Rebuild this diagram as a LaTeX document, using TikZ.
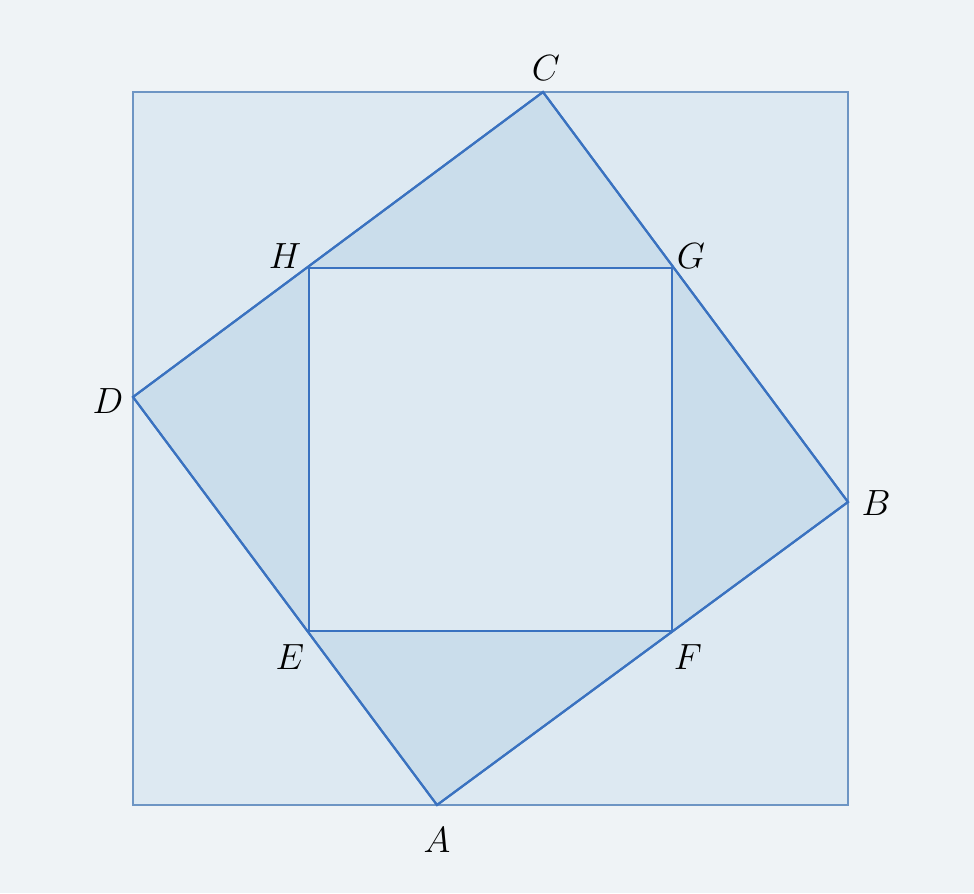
\documentclass[tikz,border=0pt]{standalone}
\usepackage{tikz}
\definecolor{bg}{HTML}{EFF3F6}
\definecolor{sqfill}{HTML}{DDE9F2}
\definecolor{trifill}{HTML}{CADDEB}
\definecolor{ln}{HTML}{3A72C0}
\definecolor{outerln}{HTML}{6D95C4}
\tikzset{lbl/.style={font=\fontsize{22}{26}\selectfont\itshape, inner sep=0pt}}
\begin{document}
\begin{tikzpicture}[x=0.02cm,y=-0.02cm]
\fill[bg] (0,0) rectangle (974,893);
\useasboundingbox (0,0) rectangle (974,893);
\coordinate (P1) at (133,92);
\coordinate (P2) at (848,92);
\coordinate (P3) at (848,805);
\coordinate (P4) at (133,805);
\coordinate (A) at (437,805);
\coordinate (B) at (848,502);
\coordinate (C) at (543,92);
\coordinate (D) at (133,397);
\coordinate (E) at (309,631);
\coordinate (F) at (672,631);
\coordinate (G) at (672,268);
\coordinate (H) at (309,268);
\filldraw[fill=sqfill, draw=outerln, line width=1.2pt] (P1) -- (P2) -- (P3) -- (P4) -- cycle;
\filldraw[fill=trifill, draw=ln, line width=1.2pt] (A) -- (B) -- (C) -- (D) -- cycle;
\filldraw[fill=sqfill, draw=ln, line width=1.2pt] (E) -- (F) -- (G) -- (H) -- cycle;
\draw[ln, line width=1.2pt] (A) -- (B) -- (C) -- (D) -- cycle;
\node[lbl] (lA) at (437,840) {$A$};
\node[lbl] (lB) at (876,503) {$B$};
\node[lbl] (lC) at (546,68) {$C$};
\node[lbl] (lD) at (108,401) {$D$};
\node[lbl] (lE) at (290,657) {$E$};
\node[lbl] (lF) at (688,657) {$F$};
\node[lbl] (lG) at (691,256) {$G$};
\node[lbl] (lH) at (285,256) {$H$};
\end{tikzpicture}
\end{document}
